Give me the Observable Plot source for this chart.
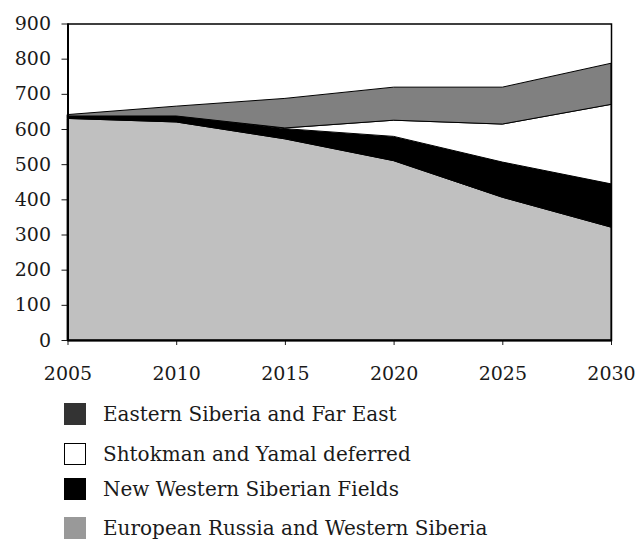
<!DOCTYPE html>
<html>
<head>
<meta charset="utf-8">
<script src="https://cdn.jsdelivr.net/npm/d3@7"></script>
<script src="https://cdn.jsdelivr.net/npm/@observablehq/plot@0.6"></script>
<style>
  html, body { margin: 0; padding: 0; background: #fff; }
  #wrap { position: relative; width: 636px; height: 540px; font-family: "DejaVu Serif", serif; }
  .row { position: absolute; left: 64px; height: 24px; display: flex; align-items: center; font-size: 20px; color: #1a1a1a; white-space: nowrap; }
  .sw { width: 22px; height: 22px; box-sizing: border-box; margin-right: 17px; }
</style>
</head>
<body>
<div id="wrap"></div>
<script>
const years = [2005, 2010, 2015, 2020, 2025, 2030];
const seriesNames = [
  "European Russia and Western Siberia",
  "New Western Siberian Fields",
  "Shtokman and Yamal deferred",
  "Eastern Siberia and Far East"
];
const european = [630, 620, 572, 510, 406, 321];
const newWestern = [7, 17, 29, 69, 100, 123];
const shtokman = [0, 0, 2, 46, 108, 226];
const eastern = [4, 28, 84, 94, 105, 117];
const areaColors = ["#c0c0c0", "#000000", "#ffffff", "#808080"];
const legendOrder = [3, 2, 1, 0];
const legendColors = ["#999999", "#000000", "#ffffff", "#333333"];
const yTicks = [0, 100, 200, 300, 400, 500, 600, 700, 800, 900];

const seriesValues = [european, newWestern, shtokman, eastern];
const data = [];
seriesNames.forEach((s, i) => {
  years.forEach((y, j) => data.push({ series: s, year: y, value: seriesValues[i][j] }));
});

const chart = Plot.plot({
  width: 636,
  height: 392,
  marginLeft: 67.5,
  marginRight: 25,
  marginTop: 23.5,
  marginBottom: 52,
  style: { fontFamily: "DejaVu Serif, serif", fontSize: "19px", color: "#1a1a1a", background: "#fff" },
  x: { domain: [2005, 2030], ticks: years, tickFormat: d => String(d), label: null, tickSize: 5, tickPadding: 21 },
  y: { domain: [0, 900], ticks: yTicks, label: null, tickSize: 6, tickPadding: 11 },
  color: { domain: seriesNames, range: areaColors },
  marks: [
    Plot.areaY(data, Plot.stackY({
      x: "year", y: "value", z: "series", fill: "series",
      order: seriesNames, stroke: "#000", strokeWidth: 1
    })),
    Plot.frame({ stroke: "#000", strokeWidth: 1.5 }),
    Plot.ruleY([0], { stroke: "#000", strokeWidth: 2 }),
    Plot.ruleX([2005], { stroke: "#000", strokeWidth: 2 })
  ]
});

const wrap = document.getElementById("wrap");
wrap.appendChild(chart);

const rowCenters = [414, 454, 489, 528];
legendOrder.forEach((idx, k) => {
  const row = document.createElement("div");
  row.className = "row";
  row.style.top = (rowCenters[k] - 12) + "px";
  const sw = document.createElement("div");
  sw.className = "sw";
  sw.style.background = legendColors[idx];
  if (legendColors[idx] === "#ffffff") sw.style.border = "1.5px solid #000";
  const label = document.createElement("span");
  label.textContent = seriesNames[idx];
  row.appendChild(sw);
  row.appendChild(label);
  wrap.appendChild(row);
});
</script>
</body>
</html>
